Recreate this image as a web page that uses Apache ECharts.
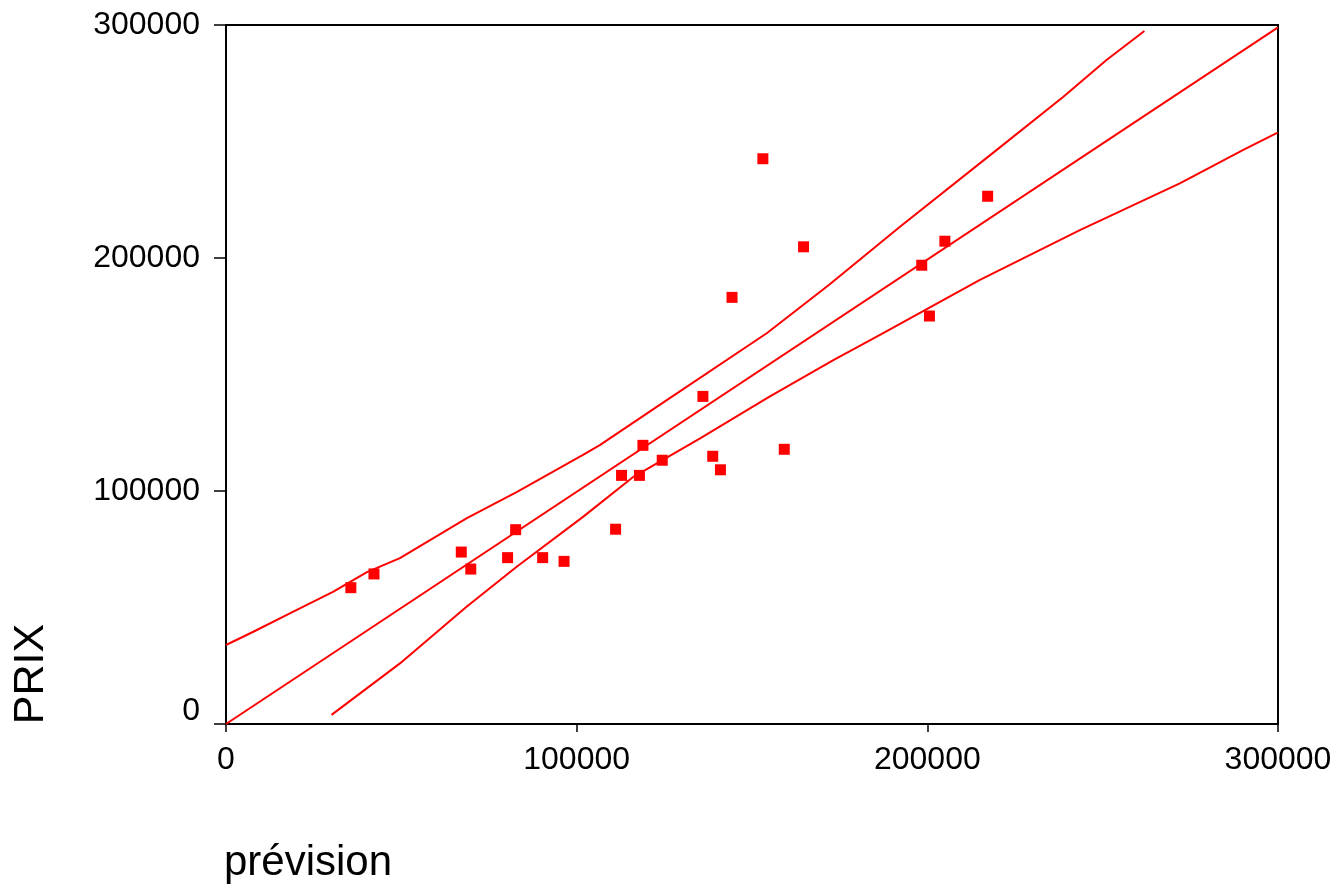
<!DOCTYPE html>
<html>
<head>
<meta charset="utf-8">
<script src="https://cdn.jsdelivr.net/npm/echarts@6/dist/echarts.min.js"></script>
<style>
  html, body { margin: 0; padding: 0; background: #fff; }
  #chart { width: 1342px; height: 888px; }
</style>
</head>
<body>
<div id="chart"></div>
<script>
// axis ticks
const xTicks = [0, 100000, 200000, 300000];
const yTicks = [0, 100000, 200000, 300000];

// observed points: prévision vs PRIX
const prevision = [35600, 42200, 67100, 69800, 80300, 82600, 90300, 96400, 111100, 112800,
  117900, 118900, 124400, 136000, 138800, 141000, 144300, 153100, 159200, 164700,
  198400, 200600, 205000, 217200];
const prix = [58500, 64400, 73800, 66500, 71400, 83400, 71400, 69800, 83600, 106700,
  106700, 119600, 113200, 140600, 114900, 109100, 183100, 242600, 117900, 204800,
  196900, 175100, 207200, 226500];

// fitted line
const fitX = [0, 300000];
const fitY = [0, 299000];

// upper band
const upperX = [0, 7800, 19200, 30500, 40200, 49600, 68700, 83000, 101800, 106600,
  125800, 154200, 172000, 192200, 219800, 238800, 251100, 261900];
const upperY = [33900, 39600, 48200, 56700, 65200, 71200, 88400, 99600, 115500, 119700,
  139100, 167700, 188500, 213400, 246400, 269200, 285000, 297400];

// lower band
const lowerX = [30100, 49600, 68600, 82900, 101900, 116200, 135200, 155000, 173200, 186500,
  215000, 243500, 272000, 290100, 299900];
const lowerY = [3900, 26000, 50300, 67500, 89000, 106100, 122600, 140500, 156200, 167000,
  190600, 212000, 232000, 246400, 253800];

const zip = (a, b) => a.map((v, i) => [v, b[i]]);
const FONT = "'Liberation Sans', Arial, sans-serif";
const RED = '#ff0000';

const chart = echarts.init(document.getElementById('chart'));

const lineSeries = (xs, ys) => ({
  type: 'line',
  data: zip(xs, ys),
  showSymbol: false,
  symbol: 'none',
  smooth: false,
  lineStyle: { color: RED, width: 2 },
  silent: true,
  z: 2
});

chart.setOption({
  animation: false,
  backgroundColor: '#fff',
  grid: {
    left: 226, top: 25, right: 64, bottom: 164,
    show: true, borderColor: '#000', borderWidth: 2
  },
  xAxis: {
    type: 'value',
    min: xTicks[0],
    max: xTicks[xTicks.length - 1],
    interval: xTicks[1] - xTicks[0],
    axisLine: { show: true, lineStyle: { color: '#000', width: 2 } },
    axisTick: { show: true, length: 8, lineStyle: { color: '#000', width: 1.5 } },
    splitLine: { show: false },
    axisLabel: { color: '#000', fontSize: 32, fontFamily: FONT, margin: 20,
      formatter: v => String(v) }
  },
  yAxis: {
    type: 'value',
    min: yTicks[0],
    max: yTicks[yTicks.length - 1],
    interval: yTicks[1] - yTicks[0],
    axisLine: { show: true, lineStyle: { color: '#000', width: 2 } },
    axisTick: { show: true, length: 12, lineStyle: { color: '#000', width: 1.5 } },
    splitLine: { show: false },
    axisLabel: {
      color: '#000', fontSize: 32, fontFamily: FONT, margin: 26,
      formatter: v => v === 0 ? '{z|0}' : String(v),
      rich: { z: { color: '#000', fontSize: 32, fontFamily: FONT, padding: [0, 0, 26, 0] } }
    }
  },
  graphic: [
    {
      type: 'text', x: 31, y: 674, rotation: Math.PI / 2,
      style: { text: 'PRIX', fill: '#000', fontSize: 43, fontFamily: FONT,
        textAlign: 'center', textVerticalAlign: 'middle', align: 'center', verticalAlign: 'middle' }
    },
    {
      type: 'text', x: 224, y: 863,
      style: { text: 'prévision', fill: '#000', fontSize: 42, fontFamily: FONT,
        textAlign: 'left', textVerticalAlign: 'middle', align: 'left', verticalAlign: 'middle' }
    }
  ],
  series: [
    lineSeries(upperX, upperY),
    lineSeries(fitX, fitY),
    lineSeries(lowerX, lowerY),
    {
      type: 'scatter',
      data: zip(prevision, prix),
      symbol: 'rect',
      symbolSize: 11,
      itemStyle: { color: RED, opacity: 1 },
      z: 3
    }
  ]
});
</script>
</body>
</html>
